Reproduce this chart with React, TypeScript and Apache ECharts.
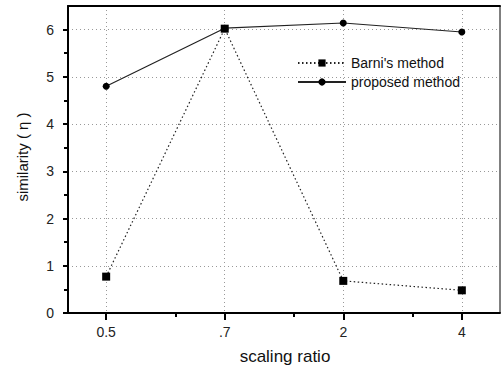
import React, { useEffect, useRef } from "react";
import * as echarts from "echarts";

const scalingRatios = [0.5, 1, 2, 4];
const xTickLabels = ["0.5", ".7", "2", "4"];
const xMinorTicks = [0.75, 1.5, 3];
const barniValues = [0.77, 6.02, 0.68, 0.48];
const proposedValues = [4.8, 6.03, 6.14, 5.95];
const yTicks = [0, 1, 2, 3, 4, 5, 6];
const yMinorTicks = [0.5, 1.5, 2.5, 3.5, 4.5, 5.5];

const FONT = "'Liberation Sans', Arial, sans-serif";

export default function App() {
  const ref = useRef<HTMLDivElement>(null);
  useEffect(() => {
    if (!ref.current) return;
    const chart = echarts.init(ref.current, undefined, { renderer: "svg" });
    const labelMap: Record<string, string> = {};
    scalingRatios.forEach((v, i) => (labelMap[String(v)] = xTickLabels[i]));
    const grid = { color: "#999", type: [1, 3], width: 1 };
    chart.setOption({
      animation: false,
      backgroundColor: "#fff",
      textStyle: { fontFamily: FONT },
      grid: {
        left: 68,
        right: 1,
        top: 6,
        bottom: 56,
        show: true,
        borderColor: "#000",
        borderWidth: 1,
        backgroundColor: "transparent",
      },
      legend: {
        orient: "vertical",
        left: 297,
        top: 56,
        padding: 0,
        itemWidth: 48,
        itemHeight: 9,
        itemGap: 5,
        textStyle: { fontSize: 14, color: "#111", fontFamily: FONT },
        data: ["Barni's method", "proposed method"],
      },
      xAxis: [
        {
          type: "log",
          logBase: 2,
          min: 0.4,
          max: 5,
          position: "bottom",
          axisLine: { show: true, lineStyle: { color: "#000", width: 2 } },
          axisTick: { show: true, length: 7, customValues: scalingRatios, lineStyle: { color: "#000", width: 2 } },
          axisLabel: {
            customValues: scalingRatios,
            margin: 12,
            fontSize: 14,
            color: "#222",
            fontFamily: FONT,
            formatter: (v: number) => labelMap[String(Math.round(v * 1000) / 1000)] ?? "",
          },
          splitLine: { show: true, lineStyle: grid },
        },
        {
          type: "log",
          logBase: 2,
          min: 0.4,
          max: 5,
          position: "bottom",
          axisLine: { show: false },
          axisTick: { show: true, length: 4, customValues: xMinorTicks, lineStyle: { color: "#000", width: 2 } },
          axisLabel: { show: false },
          splitLine: { show: false },
        },
        {
          type: "log",
          logBase: 2,
          min: 0.4,
          max: 5,
          position: "top",
          axisLine: { show: true, lineStyle: { color: "#000", width: 2 } },
          axisTick: { show: false },
          axisLabel: { show: false },
          splitLine: { show: false },
        },
      ],
      yAxis: [
        {
          type: "value",
          min: 0,
          max: 6.5,
          axisLine: { show: true, lineStyle: { color: "#000", width: 2 } },
          axisTick: { show: true, length: 5, customValues: yTicks, lineStyle: { color: "#000", width: 2 } },
          axisLabel: { customValues: yTicks, margin: 14, fontSize: 14, color: "#222", fontFamily: FONT },
          splitLine: { show: true, lineStyle: grid },
        },
        {
          type: "value",
          min: 0,
          max: 6.5,
          position: "left",
          axisLine: { show: false },
          axisTick: { show: true, length: 4, customValues: yMinorTicks, lineStyle: { color: "#000", width: 2 } },
          axisLabel: { show: false },
          splitLine: { show: false },
        },
      ],
      graphic: [
        {
          type: "text",
          x: 22,
          y: 157,
          rotation: Math.PI / 2,
          style: {
            text: "similarity ( η )",
            font: `15px ${FONT}`,
            fill: "#111",
            align: "center",
            verticalAlign: "middle",
          },
        },
        {
          type: "text",
          x: 285,
          y: 356,
          style: {
            text: "scaling ratio",
            font: `17px ${FONT}`,
            fill: "#111",
            align: "center",
            verticalAlign: "middle",
          },
        },
      ],
      series: [
        {
          name: "Barni's method",
          type: "line",
          data: scalingRatios.map((x, i) => [x, barniValues[i]]),
          symbol: "rect",
          symbolSize: 8,
          itemStyle: { color: "#000" },
          lineStyle: { color: "#222", width: 1.2, type: [1.5, 2.5] },
        },
        {
          name: "proposed method",
          type: "line",
          data: scalingRatios.map((x, i) => [x, proposedValues[i]]),
          symbol: "circle",
          symbolSize: 7,
          itemStyle: { color: "#000" },
          lineStyle: { color: "#222", width: 1.2 },
        },
      ],
    });
    return () => chart.dispose();
  }, []);
  return <div ref={ref} style={{ width: 501, height: 369, position: "absolute", left: 0, top: 0 }} />;
}
